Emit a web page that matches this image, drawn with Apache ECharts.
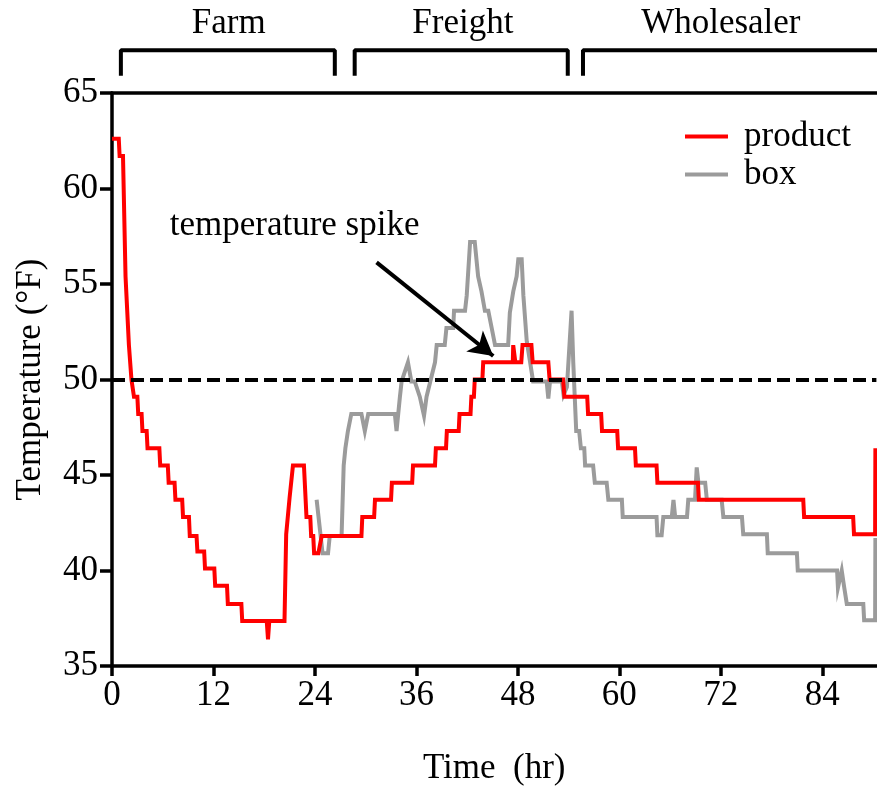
<!DOCTYPE html>
<html>
<head>
<meta charset="utf-8">
<script src="https://cdn.jsdelivr.net/npm/echarts@6/dist/echarts.min.js"></script>
<style>html,body{margin:0;padding:0;background:#fff;}#c{width:877px;height:791px;}</style>
</head>
<body>
<div id="c"></div>
<script>
// ---- data (hours, °F) ----
const xTicks = [0, 12, 24, 36, 48, 60, 72, 84];
const yTicks = [35, 40, 45, 50, 55, 60, 65];
const threshold = 50;

const product = [
[0,62.6],[0.8,62.6],[0.9,61.7],[1.3,61.7],[1.6,55.4],[2.0,51.8],[2.3,50.0],[2.6,49.1],[3.0,49.1],[3.1,48.2],[3.5,48.2],[3.6,47.3],[4.1,47.3],[4.2,46.4],[5.6,46.4],[5.7,45.5],[6.6,45.5],[6.7,44.6],[7.4,44.6],[7.5,43.7],[8.3,43.7],[8.4,42.8],[9.1,42.8],[9.2,41.8],[10.0,41.8],[10.1,41.0],[10.9,41.0],[11.0,40.1],[12.1,40.1],[12.2,39.2],[13.6,39.2],[13.7,38.25],[15.3,38.25],[15.4,37.35],[18.3,37.35],[18.45,36.4],[18.6,37.35],[20.4,37.35],[20.6,41.9],[21.0,43.8],[21.4,45.5],[22.7,45.5],[23.0,42.8],[23.45,42.8],[23.55,41.8],[23.8,41.8],[23.9,40.9],[24.4,40.9],[24.8,41.8],[29.5,41.8],[29.6,42.8],[31.0,42.8],[31.1,43.7],[33.0,43.7],[33.1,44.6],[35.5,44.6],[35.6,45.5],[38.2,45.5],[38.3,46.4],[39.5,46.4],[39.6,47.3],[41.0,47.3],[41.1,48.2],[42.4,48.2],[42.5,49.1],[42.8,49.1],[42.9,50.0],[43.8,50.0],[43.9,50.9],[47.4,50.9],[47.45,51.8],[47.6,51.8],[47.7,50.9],[48.4,50.9],[48.55,51.8],[49.6,51.8],[49.75,50.9],[51.6,50.9],[51.75,50.0],[53.35,50.0],[53.5,49.1],[56.2,49.1],[56.3,48.2],[57.85,48.2],[57.95,47.3],[59.75,47.3],[59.85,46.4],[61.85,46.4],[61.95,45.5],[64.4,45.5],[64.5,44.6],[69.3,44.6],[69.4,43.7],[81.75,43.7],[81.85,42.8],[87.65,42.8],[87.75,41.9],[90.25,41.9],[90.28,46.4]
];

const box = [
[24.2,43.7],[24.9,40.9],[25.55,40.9],[25.75,41.8],[27.15,41.8],[27.4,45.5],[27.6,46.4],[27.9,47.3],[28.3,48.2],[29.5,48.2],[29.9,47.3],[30.3,48.2],[33.45,48.2],[33.65,47.3],[34.05,49.1],[34.25,49.9],[35.0,50.9],[35.4,49.9],[35.8,49.9],[36.4,49.1],[36.9,48.1],[37.2,49.1],[38.2,50.9],[38.4,51.8],[39.35,51.8],[39.55,52.7],[40.35,52.7],[40.45,53.6],[41.75,53.6],[41.95,54.4],[42.35,57.2],[42.9,57.2],[43.3,55.4],[43.7,54.6],[44.1,53.6],[44.5,53.6],[44.9,52.7],[45.3,51.8],[46.85,51.8],[47.05,53.5],[47.45,54.6],[47.85,55.4],[48.05,56.3],[48.45,56.3],[48.65,54.4],[49.05,52.0],[49.45,50.9],[49.8,49.9],[51.4,49.9],[51.6,49.0],[51.8,49.9],[53.2,49.9],[53.4,49.2],[53.8,49.6],[54.35,53.6],[54.55,50.9],[54.9,47.3],[55.25,47.3],[55.45,46.4],[55.85,46.4],[55.95,45.5],[56.9,45.5],[57.1,44.6],[58.5,44.6],[58.7,43.7],[60.3,43.7],[60.4,42.8],[64.4,42.8],[64.5,41.85],[65.0,41.85],[65.2,42.8],[66.2,42.8],[66.4,43.7],[66.6,42.8],[68.0,42.8],[68.15,43.7],[68.95,43.7],[69.15,45.4],[69.35,44.6],[70.15,44.6],[70.35,43.7],[72.1,43.7],[72.3,42.8],[74.5,42.8],[74.65,41.9],[77.45,41.9],[77.55,40.9],[81.0,40.9],[81.1,40.0],[85.75,40.0],[85.85,39.1],[86.3,40.0],[86.6,39.1],[86.9,38.25],[88.85,38.25],[88.95,37.4],[90.25,37.4],[90.28,41.7]
];

const stageNames = ['Farm', 'Freight', 'Wholesaler'];
const stageStart = [1.05, 28.7, 55.7];
const stageEnd = [26.35, 53.9, 91];
const stageLabelX = [13.8, 41.5, 72.0];

const spikeText = 'temperature spike';
const spikeTextPos = [6.83, 58.05];
const spikeArrowFrom = [31.29, 56.13];
const spikeArrowTo = [45.09, 51.23];

// ---- chart ----
const FONT = 'Liberation Serif';
const FS = 35;
const chart = echarts.init(document.getElementById('c'), null, {renderer: 'canvas'});

const bracketTop = 67.24, bracketLeg = 65.9, labelY = 68.6;
const bracketData = [];
stageNames.forEach((n, i) => {
  if (i > 0) bracketData.push(null);
  bracketData.push([stageStart[i], bracketLeg], [stageStart[i], bracketTop], [stageEnd[i], bracketTop], [stageEnd[i], bracketLeg]);
});
const stageLabelData = stageNames.map((n, i) => ({value: [stageLabelX[i], labelY], name: n}));

const axisLineStyle = {color: '#000', width: 3.5};
const labelStyle = {fontFamily: FONT, fontSize: FS, color: '#000'};

chart.setOption({
  animation: false,
  backgroundColor: '#fff',
  grid: {left: 112, right: 0.6, top: 93, bottom: 122, containLabel: false},
  legend: {
    data: [{name: 'product', icon: 'rect'}, {name: 'box', icon: 'rect'}],
    orient: 'vertical',
    left: 680, top: 114,
    itemWidth: 43, itemHeight: 4, itemGap: 3,
    textStyle: {fontFamily: FONT, fontSize: FS, color: '#000', padding: [0, 0, 0, 11]}
  },
  xAxis: [{
    type: 'value', min: 0, max: 90.4, interval: 12, position: 'bottom',
    axisLine: {show: true, onZero: false, lineStyle: axisLineStyle},
    axisTick: {show: true, length: 10, lineStyle: axisLineStyle, customValues: xTicks},
    axisLabel: Object.assign({margin: 12, customValues: xTicks}, labelStyle),
    splitLine: {show: false},
    name: 'Time  (hr)', nameLocation: 'middle', nameGap: 85,
    nameTextStyle: labelStyle
  }, {
    type: 'value', min: 0, max: 90.4, position: 'top',
    axisLine: {show: true, onZero: false, lineStyle: axisLineStyle},
    axisTick: {show: false}, axisLabel: {show: false}, splitLine: {show: false}
  }],
  yAxis: {
    type: 'value', min: 35, max: 65, interval: 5,
    axisLine: {show: true, onZero: false, lineStyle: axisLineStyle},
    axisTick: {show: true, length: 12, lineStyle: axisLineStyle},
    axisLabel: Object.assign({margin: 14}, labelStyle),
    splitLine: {show: false},
    name: 'Temperature (°F)', nameLocation: 'middle', nameGap: 64,
    nameTextStyle: labelStyle
  },
  series: [{
    name: 'box', type: 'line', data: box, symbol: 'none', z: 2,
    lineStyle: {color: '#9b9b9b', width: 4, join: 'miter'},
    itemStyle: {color: '#9b9b9b'},
    markLine: {
      silent: true, symbol: 'none', label: {show: false},
      lineStyle: {color: '#000', width: 4, type: [13, 6]},
      data: [{yAxis: threshold}]
    }
  }, {
    name: 'product', type: 'line', data: product, symbol: 'none', z: 3,
    lineStyle: {color: '#ff0000', width: 4, join: 'miter'},
    itemStyle: {color: '#ff0000'},
    markLine: {
      silent: true, symbol: ['none', 'arrow'], symbolSize: [20, 24],
      label: {show: false},
      lineStyle: {color: '#000', width: 4, type: 'solid'},
      data: [[{coord: spikeArrowFrom}, {coord: spikeArrowTo}]]
    }
  }, {
    name: 'stages', type: 'line', data: bracketData, symbol: 'none', clip: false,
    connectNulls: false, silent: true,
    lineStyle: {color: '#000', width: 4}
  }, {
    name: 'stageLabels', type: 'scatter', data: stageLabelData, symbolSize: 0, clip: false, silent: true,
    itemStyle: {opacity: 1, color: '#000'},
    label: Object.assign({show: true, position: 'inside', formatter: p => p.name, opacity: 1}, labelStyle)
  }, {
    name: 'note', type: 'scatter', data: [{value: spikeTextPos, name: spikeText}], symbolSize: 0, clip: false, silent: true,
    itemStyle: {opacity: 1, color: '#000'},
    label: Object.assign({show: true, position: 'right', distance: 0, formatter: p => p.name, opacity: 1}, labelStyle)
  }]
});
</script>
</body>
</html>
